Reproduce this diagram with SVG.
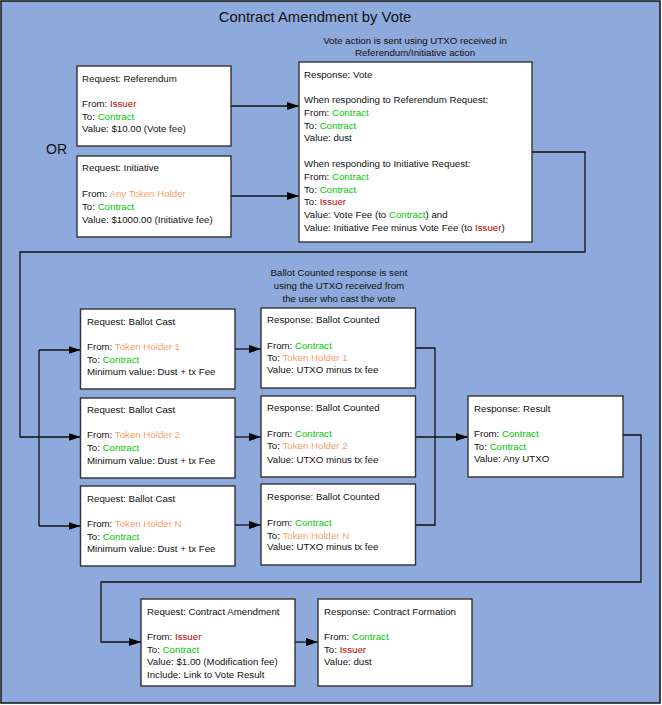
<svg xmlns="http://www.w3.org/2000/svg" width="662" height="705" viewBox="0 0 662 705">
<defs>
<style>
text{font-family:"Liberation Sans",Arial,sans-serif;font-size:9.7px;fill:#111}
.title{font-size:14.8px}
.or{font-size:14px}
.note{text-anchor:middle}
.box{fill:#fff;stroke:#333;stroke-width:1.4}
.g{fill:#00C800}
.r{fill:#C00000}
.o{fill:#F79E6B}
.conn path,.conn line{fill:none;stroke:#111;stroke-width:1.3}
.arr{marker-end:url(#ah)}
</style>
<marker id="ah" markerUnits="userSpaceOnUse" markerWidth="12" markerHeight="8" refX="12" refY="4" orient="auto">
<path d="M0,0 L12,4 L0,8 z" fill="#000"/>
</marker>
</defs>
<rect x="1" y="1" width="659" height="702" fill="#8EA9DB" stroke="#111" stroke-width="1.5"/>
<text class="title" x="315" y="22" text-anchor="middle">Contract Amendment by Vote</text>
<text class="or" x="46" y="154">OR</text>
<text class="note" x="415" y="44">Vote action is sent using UTXO received in</text>
<text class="note" x="415" y="56">Referendum/Initiative action</text>
<text class="note" x="339" y="276">Ballot Counted response is sent</text>
<text class="note" x="339" y="289">using the UTXO received from</text>
<text class="note" x="339" y="302">the user who cast the vote</text>

<g class="conn">
<line class="arr" x1="231" y1="106" x2="299" y2="106"/>
<line class="arr" x1="231" y1="196" x2="299" y2="196"/>
<path class="arr" d="M532,152 H585 V252 H20 V437 H80.5"/>
<path d="M39,350 V526"/>
<path class="arr" d="M39,350 H80.5"/>
<path class="arr" d="M39,526 H80.5"/>
<line class="arr" x1="235" y1="349" x2="261" y2="349"/>
<line class="arr" x1="235" y1="437" x2="261" y2="437"/>
<line class="arr" x1="235" y1="525" x2="261" y2="525"/>
<path d="M415,348 H435 V525 H415"/>
<path class="arr" d="M415,437 H468"/>
<path class="arr" d="M623,435 H641 V582 H101 V642 H141"/>
<line class="arr" x1="295" y1="642" x2="318" y2="642"/>
</g>

<g id="req-referendum">
<rect class="box" x="77" y="66" width="154" height="80"/>
<text x="82" y="82">Request: Referendum</text>
<text x="82" y="107">From: <tspan class="r">Issuer</tspan></text>
<text x="82" y="120">To: <tspan class="g">Contract</tspan></text>
<text x="82" y="132">Value: $10.00 (Vote fee)</text>
</g>

<g id="req-initiative">
<rect class="box" x="77" y="156" width="154" height="81"/>
<text x="82" y="171">Request: Initiative</text>
<text x="82" y="197">From: <tspan class="o">Any Token Holder</tspan></text>
<text x="82" y="210">To: <tspan class="g">Contract</tspan></text>
<text x="82" y="223">Value: $1000.00 (Initiative fee)</text>
</g>

<g id="resp-vote">
<rect class="box" x="299" y="62" width="233" height="180"/>
<text x="304" y="78">Response: Vote</text>
<text x="304" y="103">When responding to Referendum Request:</text>
<text x="304" y="116">From: <tspan class="g">Contract</tspan></text>
<text x="304" y="129">To: <tspan class="g">Contract</tspan></text>
<text x="304" y="141">Value: dust</text>
<text x="304" y="167">When responding to Initiative Request:</text>
<text x="304" y="180">From: <tspan class="g">Contract</tspan></text>
<text x="304" y="193">To: <tspan class="g">Contract</tspan></text>
<text x="304" y="205">To: <tspan class="r">Issuer</tspan></text>
<text x="304" y="218">Value: Vote Fee (to <tspan class="g">Contract</tspan>) and</text>
<text x="304" y="231">Value: Initiative Fee minus Vote Fee (to <tspan class="r">Issuer</tspan>)</text>
</g>

<g id="ballot-cast-1">
<rect class="box" x="80.5" y="309" width="154.5" height="80"/>
<text x="87" y="325">Request: Ballot Cast</text>
<text x="87" y="350">From: <tspan class="o">Token Holder 1</tspan></text>
<text x="87" y="363">To: <tspan class="g">Contract</tspan></text>
<text x="87" y="375">Minimum value: Dust + tx Fee</text>
</g>
<g id="ballot-cast-2">
<rect class="box" x="80.5" y="398" width="154.5" height="80"/>
<text x="87" y="413">Request: Ballot Cast</text>
<text x="87" y="438">From: <tspan class="o">Token Holder 2</tspan></text>
<text x="87" y="451">To: <tspan class="g">Contract</tspan></text>
<text x="87" y="464">Minimum value: Dust + tx Fee</text>
</g>
<g id="ballot-cast-n">
<rect class="box" x="80.5" y="486" width="154.5" height="80"/>
<text x="87" y="502">Request: Ballot Cast</text>
<text x="87" y="527">From: <tspan class="o">Token Holder N</tspan></text>
<text x="87" y="540">To: <tspan class="g">Contract</tspan></text>
<text x="87" y="552">Minimum value: Dust + tx Fee</text>
</g>

<g id="ballot-counted-1">
<rect class="box" x="261" y="308" width="154.5" height="80"/>
<text x="267" y="323">Response:  Ballot Counted</text>
<text x="267" y="349">From: <tspan class="g">Contract</tspan></text>
<text x="267" y="361">To: <tspan class="o">Token Holder 1</tspan></text>
<text x="267" y="373">Value:  UTXO minus tx fee</text>
</g>
<g id="ballot-counted-2">
<rect class="box" x="261" y="396" width="154.5" height="81"/>
<text x="267" y="411">Response:  Ballot Counted</text>
<text x="267" y="437">From: <tspan class="g">Contract</tspan></text>
<text x="267" y="449">To: <tspan class="o">Token Holder 2</tspan></text>
<text x="267" y="463">Value:  UTXO minus tx fee</text>
</g>
<g id="ballot-counted-n">
<rect class="box" x="261" y="484" width="154.5" height="81"/>
<text x="267" y="500">Response:  Ballot Counted</text>
<text x="267" y="526">From: <tspan class="g">Contract</tspan></text>
<text x="267" y="539">To: <tspan class="o">Token Holder N</tspan></text>
<text x="267" y="550">Value:  UTXO minus tx fee</text>
</g>

<g id="resp-result">
<rect class="box" x="468" y="396" width="155" height="81"/>
<text x="474" y="412">Response: Result</text>
<text x="474" y="437">From: <tspan class="g">Contract</tspan></text>
<text x="474" y="450">To: <tspan class="g">Contract</tspan></text>
<text x="474" y="462">Value: Any UTXO</text>
</g>

<g id="req-amendment">
<rect class="box" x="141" y="599" width="154" height="87"/>
<text x="147" y="615">Request: Contract Amendment</text>
<text x="147" y="640">From: <tspan class="r">Issuer</tspan></text>
<text x="147" y="653">To: <tspan class="g">Contract</tspan></text>
<text x="147" y="665">Value: $1.00 (Modification fee)</text>
<text x="147" y="678">Include: Link to Vote Result</text>
</g>

<g id="resp-formation">
<rect class="box" x="318" y="599" width="154" height="87"/>
<text x="324" y="615">Response: Contract Formation</text>
<text x="324" y="640">From: <tspan class="g">Contract</tspan></text>
<text x="324" y="653">To: <tspan class="r">Issuer</tspan></text>
<text x="324" y="665">Value: dust</text>
</g>
</svg>
